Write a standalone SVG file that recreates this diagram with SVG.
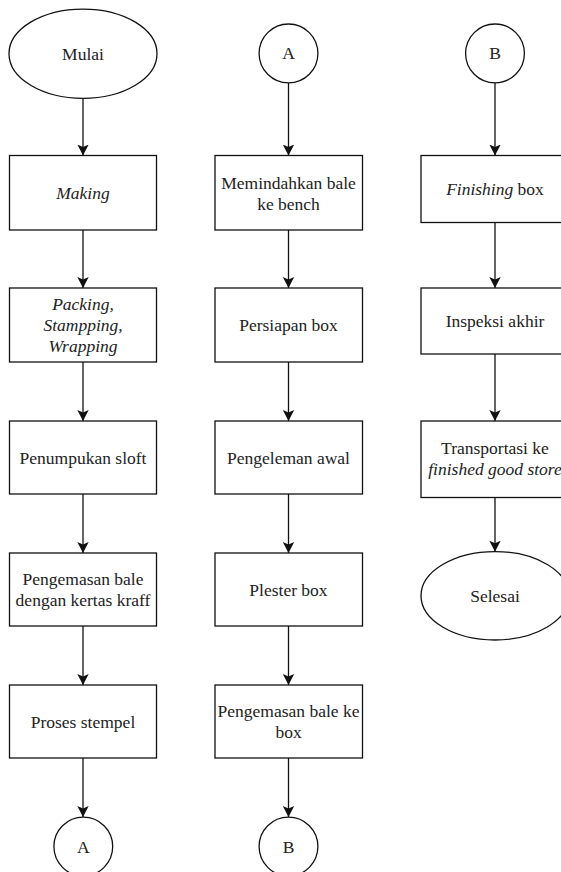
<svg xmlns="http://www.w3.org/2000/svg" width="561" height="872" viewBox="0 0 561 872" font-family="Liberation Serif, Times New Roman, serif">
<style>
.s{fill:#fff;stroke:#111;stroke-width:1.3}
.t{font-family:Liberation Serif,Times New Roman,serif;font-size:17.5px;fill:#222;text-anchor:middle}
.i{font-style:italic}
.c{fill:none;stroke:#111;stroke-width:1.3}
</style>
<defs>
<marker id="arr" markerUnits="userSpaceOnUse" markerWidth="13" markerHeight="13" viewBox="0 -6.5 13 13" refX="11" refY="0" orient="auto">
<path d="M0,-5.7 L11,0 L0,5.7 L2.6,0 Z" fill="#111"/>
</marker>
</defs>
<rect width="561" height="872" fill="#fff"/>
<g id="connectors">
<path class="c" marker-end="url(#arr)" d="M83,98.3 V155.5"/>
<path class="c" marker-end="url(#arr)" d="M83,230 V288"/>
<path class="c" marker-end="url(#arr)" d="M83,362 V421"/>
<path class="c" marker-end="url(#arr)" d="M83,494 V553"/>
<path class="c" marker-end="url(#arr)" d="M83,626 V685"/>
<path class="c" marker-end="url(#arr)" d="M83,758 V817"/>
<path class="c" marker-end="url(#arr)" d="M288.5,82.8 V155.5"/>
<path class="c" marker-end="url(#arr)" d="M288.5,230 V288"/>
<path class="c" marker-end="url(#arr)" d="M288.5,362 V421"/>
<path class="c" marker-end="url(#arr)" d="M288.5,494 V553"/>
<path class="c" marker-end="url(#arr)" d="M288.5,626 V685"/>
<path class="c" marker-end="url(#arr)" d="M288.5,758 V817"/>
<path class="c" marker-end="url(#arr)" d="M495,82.8 V155.5"/>
<path class="c" marker-end="url(#arr)" d="M495,222.5 V288"/>
<path class="c" marker-end="url(#arr)" d="M495,354 V421"/>
<path class="c" marker-end="url(#arr)" d="M495,497.5 V551.7"/>
</g>
<g id="mulai"><ellipse class="s" cx="83" cy="53.7" rx="74" ry="44.6"/><text class="t" x="83" y="59.7">Mulai</text></g>
<g id="making"><rect class="s" x="9.5" y="155.5" width="147" height="74.5"/><text class="t i" x="83" y="198.5">Making</text></g>
<g id="packing"><rect class="s" x="9.5" y="288" width="147" height="74"/><text class="t i" x="83" y="310">Packing,</text><text class="t i" x="83" y="331">Stampping,</text><text class="t i" x="83" y="352">Wrapping</text></g>
<g id="penumpukan"><rect class="s" x="9.5" y="421" width="147" height="73"/><text class="t" x="83" y="463.5">Penumpukan sloft</text></g>
<g id="pengemasan-bale"><rect class="s" x="9.5" y="553" width="147" height="73"/><text class="t" x="83" y="585">Pengemasan bale</text><text class="t" x="83" y="606">dengan kertas kraff</text></g>
<g id="proses-stempel"><rect class="s" x="9.5" y="685" width="147" height="73"/><text class="t" x="83" y="727.5">Proses stempel</text></g>
<g id="a-out"><circle class="s" cx="83.3" cy="846.6" r="29.4"/><text class="t" x="83.3" y="852.6">A</text></g>
<g id="a-in"><circle class="s" cx="288.5" cy="53.4" r="29.4"/><text class="t" x="288.5" y="59.4">A</text></g>
<g id="memindahkan"><rect class="s" x="215" y="155.5" width="147.5" height="74.5"/><text class="t" x="288.5" y="188.5">Memindahkan bale</text><text class="t" x="288.5" y="209.5">ke bench</text></g>
<g id="persiapan"><rect class="s" x="215" y="288" width="147.5" height="74"/><text class="t" x="288.5" y="331">Persiapan box</text></g>
<g id="pengeleman"><rect class="s" x="215" y="421" width="147.5" height="73"/><text class="t" x="288.5" y="463.5">Pengeleman awal</text></g>
<g id="plester"><rect class="s" x="215" y="553" width="147.5" height="73"/><text class="t" x="288.5" y="595.5">Plester box</text></g>
<g id="pengemasan-box"><rect class="s" x="215" y="685" width="147.5" height="73"/><text class="t" x="288.5" y="717">Pengemasan bale ke</text><text class="t" x="288.5" y="738">box</text></g>
<g id="b-out"><circle class="s" cx="288.5" cy="846.6" r="29.4"/><text class="t" x="288.5" y="852.6">B</text></g>
<g id="b-in"><circle class="s" cx="495" cy="53.4" r="29.4"/><text class="t" x="495" y="59.4">B</text></g>
<g id="finishing"><rect class="s" x="421" y="155.5" width="148" height="67"/><text class="t" x="495" y="195"><tspan class="i">Finishing</tspan> box</text></g>
<g id="inspeksi"><rect class="s" x="421" y="288" width="148" height="66"/><text class="t" x="495" y="327">Inspeksi akhir</text></g>
<g id="transportasi"><rect class="s" x="421" y="421" width="148" height="76.5"/><text class="t" x="495" y="454">Transportasi ke</text><text class="t i" x="495" y="475">finished good store</text></g>
<g id="selesai"><ellipse class="s" cx="495" cy="595.8" rx="74" ry="44.2"/><text class="t" x="495" y="601.8">Selesai</text></g>
</svg>
